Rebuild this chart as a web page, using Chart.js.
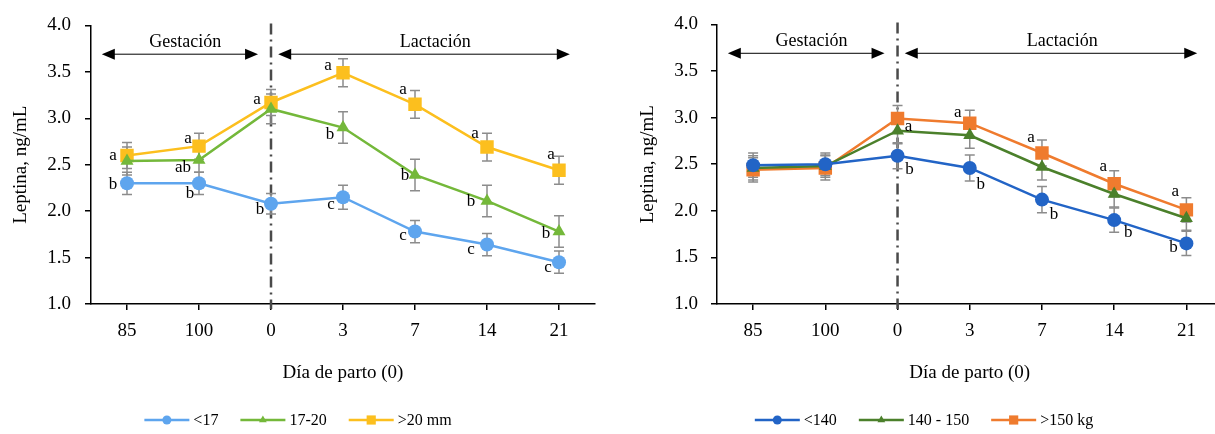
<!DOCTYPE html>
<html>
<head>
<meta charset="utf-8">
<script src="https://cdn.jsdelivr.net/npm/chart.js@4/dist/chart.umd.min.js"></script>
<style>
  html, body { margin: 0; padding: 0; background: #fff; overflow: hidden; width: 1215px; height: 434px; }
  #fatChart { position: absolute; left: 0; top: 0; }
  #weightChart { position: absolute; left: 607px; top: 0; }
</style>
</head>
<body>
<canvas id="fatChart" width="607" height="434"></canvas>
<canvas id="weightChart" width="625" height="434"></canvas>
<script>
// days relative to farrowing (0 = day of farrowing)
const days = ['85', '100', '0', '3', '7', '14', '21'];

// left panel: backfat groups
const fatNames = ['<17', '17-20', '>20 mm'];
const fatLow = [2.30, 2.30, 2.08, 2.15, 1.78, 1.64, 1.45];
const fatMid = [2.54, 2.55, 3.10, 2.90, 2.39, 2.11, 1.78];
const fatHigh = [2.60, 2.70, 3.17, 3.49, 3.15, 2.69, 2.44];
const fatLowErr = [0.12, 0.12, 0.11, 0.13, 0.12, 0.12, 0.12];
const fatMidErr = [0.15, 0.13, 0.16, 0.17, 0.17, 0.17, 0.17];
const fatHighErr = [0.14, 0.14, 0.14, 0.15, 0.15, 0.15, 0.15];
const fatLowLetters = ['b', 'b', 'b', 'c', 'c', 'c', 'c'];
const fatMidLetters = ['', 'ab', '', 'b', 'b', 'b', 'b'];
const fatHighLetters = ['a', 'a', 'a', 'a', 'a', 'a', 'a'];

// right panel: body weight groups
const weightNames = ['<140', '140 - 150', '>150 kg'];
const weightLow = [2.49, 2.50, 2.59, 2.46, 2.12, 1.90, 1.65];
const weightMid = [2.46, 2.48, 2.86, 2.81, 2.47, 2.18, 1.92];
const weightHigh = [2.44, 2.46, 2.99, 2.94, 2.62, 2.29, 2.01];
const weightLowErr = [0.13, 0.12, 0.14, 0.14, 0.14, 0.13, 0.13];
const weightMidErr = [0.13, 0.12, 0.14, 0.14, 0.14, 0.14, 0.13];
const weightHighErr = [0.13, 0.13, 0.14, 0.14, 0.14, 0.14, 0.13];
const weightLowLetters = ['', '', 'b', 'b', 'b', 'b', 'b'];
const weightMidLetters = ['', '', '', '', '', '', ''];
const weightHighLetters = ['', '', 'a', 'a', 'a', 'a', 'a'];

const yTicks = [1.0, 1.5, 2.0, 2.5, 3.0, 3.5, 4.0];
const periodNames = ['Gestación', 'Lactación'];

// letter nudges in px, relative to the marker (style only)
const fatNudge = [
  [[-14, 1], [-9, 10], [-11, 6], [-12, 7], [-12, 4], [-16, 5], [-11, 5]],
  [[0, 0], [-16, 7], [0, 0], [-13, 7], [-10, 1], [-16, 1], [-13, 2]],
  [[-14, 0], [-11, -8], [-14, -3], [-15, -7], [-12, -15], [-12, -14], [-8, -16]]
];
const weightNudge = [
  [[0, 0], [0, 0], [12, 14], [11, 17], [12, 15], [14, 12], [-13, 4]],
  [[0, 0], [0, 0], [0, 0], [0, 0], [0, 0], [0, 0], [0, 0]],
  [[0, 0], [0, 0], [11, 8], [-12, -11], [-11, -15], [-11, -17], [-11, -18]]
];

const FONT = "'Liberation Serif', 'Times New Roman', serif";

function drawArrow(ctx, x1, x2, y) {
  ctx.save();
  ctx.strokeStyle = '#000';
  ctx.fillStyle = '#000';
  ctx.lineWidth = 1;
  ctx.beginPath();
  ctx.moveTo(x1 + 8, y);
  ctx.lineTo(x2 - 8, y);
  ctx.stroke();
  ctx.beginPath();
  ctx.moveTo(x1, y); ctx.lineTo(x1 + 13, y - 5.5); ctx.lineTo(x1 + 13, y + 5.5); ctx.closePath();
  ctx.fill();
  ctx.beginPath();
  ctx.moveTo(x2, y); ctx.lineTo(x2 - 13, y - 5.5); ctx.lineTo(x2 - 13, y + 5.5); ctx.closePath();
  ctx.fill();
  ctx.restore();
}

function extras(errs, letters, nudges, legendCenter) {
  return {
    id: 'extras',
    beforeDatasetsDraw(chart) {
      const ctx = chart.ctx, xs = chart.scales.x, ys = chart.scales.y, a = chart.chartArea;
      // dash-dot line on farrowing day
      const px = xs.getPixelForValue(days.indexOf('0'));
      ctx.save();
      ctx.strokeStyle = '#4a4a4a';
      ctx.lineWidth = 2.5;
      ctx.setLineDash([11, 5, 2, 5]);
      ctx.beginPath();
      ctx.moveTo(px, a.top - 2);
      ctx.lineTo(px, a.bottom + 5);
      ctx.stroke();
      ctx.restore();
      // error bars
      ctx.save();
      ctx.strokeStyle = '#8c8c8c';
      ctx.lineWidth = 1.5;
      chart.data.datasets.forEach((ds, i) => {
        chart.getDatasetMeta(i).data.forEach((pt, j) => {
          const v = ds.data[j], e = errs[i][j];
          const t = ys.getPixelForValue(v + e), b = ys.getPixelForValue(v - e);
          ctx.beginPath();
          ctx.moveTo(pt.x, t); ctx.lineTo(pt.x, b);
          ctx.moveTo(pt.x - 5, t); ctx.lineTo(pt.x + 5, t);
          ctx.moveTo(pt.x - 5, b); ctx.lineTo(pt.x + 5, b);
          ctx.stroke();
        });
      });
      ctx.restore();
    },
    afterDatasetsDraw(chart) {
      const ctx = chart.ctx, xs = chart.scales.x, ys = chart.scales.y;
      // significance letters
      ctx.save();
      ctx.font = '17px ' + FONT;
      ctx.fillStyle = '#000';
      ctx.textAlign = 'center';
      ctx.textBaseline = 'middle';
      chart.data.datasets.forEach((ds, i) => {
        chart.getDatasetMeta(i).data.forEach((pt, j) => {
          const s = letters[i][j];
          if (!s) return;
          ctx.fillText(s, pt.x + nudges[i][j][0], pt.y + nudges[i][j][1]);
        });
      });
      // period arrows
      const ay = ys.getPixelForValue(3.69), ty = ys.getPixelForValue(3.82);
      drawArrow(ctx, xs.getPixelForValue(-0.35), xs.getPixelForValue(1.82), ay);
      drawArrow(ctx, xs.getPixelForValue(2.1), xs.getPixelForValue(6.15), ay);
      ctx.font = '18px ' + FONT;
      ctx.fillText(periodNames[0], xs.getPixelForValue(0.81), ty);
      ctx.fillText(periodNames[1], xs.getPixelForValue(4.28), ty);
      ctx.restore();
    },
    afterDraw(chart) {
      // legend: line with marker, then label
      const ctx = chart.ctx;
      const dsets = chart.data.datasets;
      ctx.save();
      ctx.font = '16px ' + FONT;
      const lineLen = 45, gap = 4, itemGap = 22;
      let total = 0;
      dsets.forEach((ds, i) => {
        total += lineLen + gap + ctx.measureText(ds.label).width + (i < dsets.length - 1 ? itemGap : 0);
      });
      let x = legendCenter - total / 2;
      const y = 420;
      dsets.forEach(ds => {
        ctx.strokeStyle = ds.borderColor;
        ctx.lineWidth = 2.5;
        ctx.beginPath();
        ctx.moveTo(x, y); ctx.lineTo(x + lineLen, y);
        ctx.stroke();
        ctx.fillStyle = ds.backgroundColor;
        Chart.helpers.drawPoint(ctx, {
          pointStyle: ds.pointStyle,
          radius: ds.pointStyle === 'rect' ? 6.5 : 4.5,
          rotation: 0,
          borderWidth: 0
        }, x + lineLen / 2, y);
        ctx.fillStyle = '#000';
        ctx.textAlign = 'left';
        ctx.textBaseline = 'middle';
        ctx.fillText(ds.label, x + lineLen + gap, y + 1);
        x += lineLen + gap + ctx.measureText(ds.label).width + itemGap;
      });
      ctx.restore();
    }
  };
}

function series(label, data, color, style) {
  const radius = style === 'rect' ? 9.5 : (style === 'triangle' ? 7.5 : 7);
  return {
    label: label,
    data: data,
    borderColor: color,
    backgroundColor: color,
    borderWidth: 2.5,
    pointStyle: style,
    pointRadius: radius,
    pointBorderWidth: 0,
    pointBackgroundColor: color,
    tension: 0
  };
}

function options(yWidth, titlePad, tickPad, padRight) {
  return {
    responsive: false,
    animation: false,
    events: [],
    layout: { padding: { left: 0, right: padRight, top: 20, bottom: 44 } },
    plugins: { legend: { display: false }, tooltip: { enabled: false } },
    scales: {
      x: {
        type: 'category',
        offset: true,
        grid: { drawOnChartArea: false, tickLength: 6, color: '#000', lineWidth: 1.5 },
        border: { color: '#000', width: 1.5 },
        ticks: { color: '#000', font: { family: FONT, size: 19 }, padding: 10, maxRotation: 0 },
        title: {
          display: true, text: 'Día de parto (0)', color: '#000',
          font: { family: FONT, size: 19 }, padding: { top: 4, bottom: 6 }
        },
        afterFit: s => { s.height = 86; }
      },
      y: {
        min: 1, max: 4,
        afterBuildTicks: s => { s.ticks = yTicks.map(v => ({ value: v })); },
        grid: { drawOnChartArea: false, tickLength: 6, color: '#000', lineWidth: 1.5 },
        border: { color: '#000', width: 1.5 },
        ticks: {
          color: '#000', font: { family: FONT, size: 19 }, padding: tickPad,
          callback: v => Number(v).toFixed(1)
        },
        title: {
          display: true, text: 'Leptina, ng/mL', color: '#000',
          font: { family: FONT, size: 19 }, padding: { top: titlePad, bottom: 0 }
        },
        afterFit: s => { s.width = yWidth; }
      }
    }
  };
}

new Chart(document.getElementById('fatChart').getContext('2d'), {
  type: 'line',
  data: {
    labels: days,
    datasets: [
      series(fatNames[0], fatLow, '#5ea5ee', 'circle'),
      series(fatNames[1], fatMid, '#74b83a', 'triangle'),
      series(fatNames[2], fatHigh, '#fcbf1e', 'rect')
    ]
  },
  options: options(91, 10, 14, 12),
  plugins: [extras([fatLowErr, fatMidErr, fatHighErr],
                   [fatLowLetters, fatMidLetters, fatHighLetters], fatNudge, 298)]
});

new Chart(document.getElementById('weightChart').getContext('2d'), {
  type: 'line',
  data: {
    labels: days,
    datasets: [
      series(weightNames[0], weightLow, '#2264c6', 'circle'),
      series(weightNames[1], weightMid, '#4b802b', 'triangle'),
      series(weightNames[2], weightHigh, '#ef7b2e', 'rect')
    ]
  },
  options: options(110, 30, 13, 2),
  plugins: [extras([weightLowErr, weightMidErr, weightHighErr],
                   [weightLowLetters, weightMidLetters, weightHighLetters], weightNudge, 924 - 607)]
});
</script>
</body>
</html>
